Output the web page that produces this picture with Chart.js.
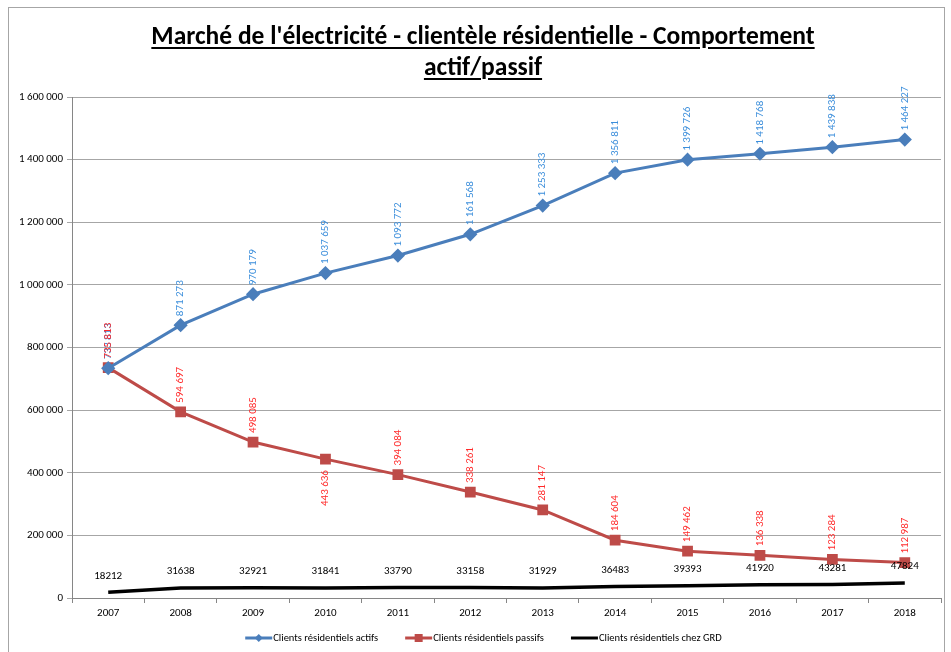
<!DOCTYPE html>
<html>
<head>
<meta charset="utf-8">
<script src="https://cdn.jsdelivr.net/npm/chart.js@4"></script>
<style>
  html, body { margin: 0; padding: 0; background: #fff; }
  #wrap { position: relative; width: 951px; height: 652px; }
  #frame { position: absolute; left: 8px; top: 7px; width: 937px; height: 660px; border: 1px solid #a6a6a6; box-sizing: border-box; pointer-events: none; }
  #title { position: absolute; left: 0; top: 20px; width: 966px; text-align: center;
           font-family: "Carlito", "Liberation Sans Narrow", "Roboto Condensed", "Liberation Sans", sans-serif;
           font-weight: bold; font-size: 25.5px; line-height: 31px; color: #000; text-decoration: underline; text-decoration-thickness: 2px; text-underline-offset: 3px; }
  canvas { position: absolute; left: 0; top: 0; }
</style>
</head>
<body>
<div id="wrap">
  <canvas id="c" width="951" height="652"></canvas>
  <div id="frame"></div>
  <div id="title">Marché de l'électricité - clientèle résidentielle - Comportement<br>actif/passif</div>
</div>
<script>
const years = ['2007','2008','2009','2010','2011','2012','2013','2014','2015','2016','2017','2018'];
const actifs = [733813, 871273, 970179, 1037659, 1093772, 1161568, 1253333, 1356811, 1399726, 1418768, 1439838, 1464227];
const passifs = [735813, 594697, 498085, 443636, 394084, 338261, 281147, 184604, 149462, 136338, 123284, 112987];
const grd = [18212, 31638, 32921, 31841, 33790, 33158, 31929, 36483, 39393, 41920, 43281, 47824];
const yTicks = [0, 200000, 400000, 600000, 800000, 1000000, 1200000, 1400000, 1600000];
const seriesNames = ['Clients résidentiels actifs', 'Clients résidentiels passifs', 'Clients résidentiels chez GRD'];
const passifsLabelsBelow = ['2010'];

const FONT = '"Carlito", "Liberation Sans", "DejaVu Sans", sans-serif';
const spaced = n => String(n).replace(/\B(?=(\d{3})+(?!\d))/g, ' ');

const labelPlugin = {
  id: 'valueLabels',
  afterDatasetsDraw(chart) {
    const ctx = chart.ctx;
    chart.data.datasets.forEach((ds, di) => {
      const meta = chart.getDatasetMeta(di);
      meta.data.forEach((pt, i) => {
        const v = ds.data[i];
        ctx.save();
        ctx.font = '11px ' + FONT;
        if (ds.labelMode === 'horiz') {
          ctx.fillStyle = '#000';
          ctx.textAlign = 'center';
          ctx.textBaseline = 'bottom';
          ctx.fillText(String(v), pt.x, pt.y - 11);
        } else {
          ctx.fillStyle = ds.labelColor;
          const below = ds.belowSet && ds.belowSet.includes(years[i]);
          ctx.translate(pt.x, below ? pt.y + 11 : pt.y - 9);
          ctx.rotate(-Math.PI / 2);
          ctx.textAlign = below ? 'right' : 'left';
          ctx.textBaseline = 'middle';
          ctx.fillText(spaced(v), 0, 0);
        }
        ctx.restore();
      });
    });
  }
};

const legendPlugin = {
  id: 'excelLegend',
  afterDraw(chart) {
    const ctx = chart.ctx;
    ctx.save();
    ctx.font = '10.5px ' + FONT;
    const lineLen = 27, gap = 1, itemGap = 27;
    const items = chart.data.datasets.map(ds => ({ ds, w: lineLen + gap + ctx.measureText(ds.label).width }));
    const total = items.reduce((s, it) => s + it.w, 0) + itemGap * (items.length - 1);
    let x = chart.width / 2 + 8 - total / 2;
    const y = 638;
    items.forEach(it => {
      const ds = it.ds;
      ctx.strokeStyle = ds.borderColor;
      ctx.lineWidth = 3;
      ctx.beginPath(); ctx.moveTo(x, y); ctx.lineTo(x + lineLen, y); ctx.stroke();
      if (ds.pointRadius > 0) {
        ctx.fillStyle = ds.pointBackgroundColor;
        const cx = x + lineLen / 2, r = 4;
        ctx.beginPath();
        if (ds.pointStyle === 'rectRot') {
          ctx.moveTo(cx, y - r); ctx.lineTo(cx + r, y); ctx.lineTo(cx, y + r); ctx.lineTo(cx - r, y); ctx.closePath();
        } else {
          ctx.rect(cx - r, y - r, 2 * r, 2 * r);
        }
        ctx.fill();
      }
      ctx.fillStyle = '#000';
      ctx.textAlign = 'left'; ctx.textBaseline = 'middle';
      ctx.fillText(ds.label, x + lineLen + gap, y);
      x += it.w + itemGap;
    });
    ctx.restore();
  }
};

new Chart(document.getElementById('c'), {
  type: 'line',
  data: {
    labels: years,
    datasets: [
      { label: seriesNames[0], data: actifs, borderColor: '#4A7EBB', backgroundColor: '#4A7EBB',
        pointBackgroundColor: '#4A7EBB', pointBorderColor: '#4A7EBB', pointStyle: 'rectRot', pointRadius: 5,
        borderWidth: 3, tension: 0, labelColor: '#3B8EDB', labelMode: 'rot' },
      { label: seriesNames[1], data: passifs, borderColor: '#BE4B48', backgroundColor: '#BE4B48',
        pointBackgroundColor: '#BE4B48', pointBorderColor: '#BE4B48', pointStyle: 'rect', pointRadius: 5.5,
        borderWidth: 3, tension: 0, labelColor: '#FF2A2A', labelMode: 'rot', belowSet: passifsLabelsBelow },
      { label: seriesNames[2], data: grd, borderColor: '#000', backgroundColor: '#000',
        pointRadius: 0, borderWidth: 3.5, tension: 0, labelMode: 'horiz' }
    ]
  },
  options: {
    responsive: false,
    animation: false,
    layout: { padding: { left: 8, right: 10, top: 97, bottom: 0 } },
    plugins: { legend: { display: false }, title: { display: false }, tooltip: { enabled: false } },
    scales: {
      x: {
        offset: true,
        grid: { display: true, drawOnChartArea: false, offset: true, color: '#868686', tickLength: 5 },
        border: { color: '#868686' },
        ticks: { color: '#000', font: { family: FONT, size: 11 }, maxRotation: 0, padding: 4 },
        afterFit(s) { s.height = 54; }
      },
      y: {
        min: 0, max: 1600000,
        afterBuildTicks(s) { s.ticks = yTicks.map(v => ({ value: v })); },
        grid: { color: '#A6A6A6', tickLength: 5 },
        border: { color: '#868686' },
        ticks: { color: '#000', font: { family: FONT, size: 11 }, padding: 4, callback: v => spaced(v) },
        afterFit(s) { s.width = 64; }
      }
    }
  },
  plugins: [labelPlugin, legendPlugin]
});
</script>
</body>
</html>
